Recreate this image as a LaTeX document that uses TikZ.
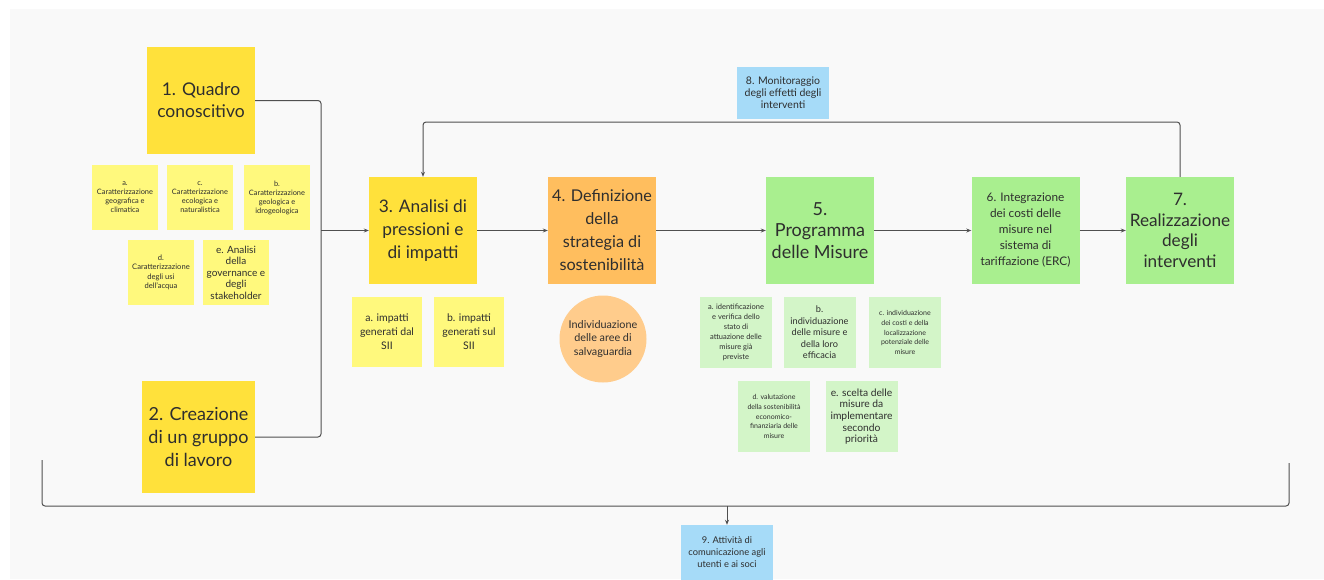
\documentclass[tikz,border=0pt]{standalone}
\usepackage{fontspec}
\setmainfont{Lato}
\usetikzlibrary{arrows.meta}
\definecolor{bgcol}{HTML}{F9F9F9}
\definecolor{txtcol}{HTML}{2E2E2E}
\definecolor{linecol}{HTML}{505050}
\definecolor{stepyel}{HTML}{FFE13B}
\definecolor{steporg}{HTML}{FFBE5E}
\definecolor{stepgrn}{HTML}{A9EF8F}
\definecolor{noteyel}{HTML}{FFF97D}
\definecolor{notegrn}{HTML}{D3F5C8}
\definecolor{noteblu}{HTML}{A6DBF8}
\definecolor{circorg}{HTML}{FFCC8C}
\newcommand{\fs}[2]{\fontsize{#1}{#2}\selectfont}
\begin{document}
\begin{tikzpicture}[x=1pt, y=-1pt,
  every node/.style={align=center, inner sep=0pt, text=txtcol},
  stepbox/.style={minimum width=108pt, minimum height=107pt},
  notesq/.style={fill=noteyel, minimum width=66pt, minimum height=65pt, font=\fs{7.4}{9}},
  notegr/.style={fill=notegrn, minimum width=72pt, minimum height=71pt, font=\fs{7}{9.8}},
  infobox/.style={fill=noteblu, minimum width=92pt, font=\fs{10.5}{12}},
  link/.style={draw=linecol, line width=1pt, rounded corners=3pt},
  flow/.style={link, -{Stealth[length=5pt, width=4pt]}}]
  \useasboundingbox (0,0) rectangle (1324,579);
  \fill[bgcol] (10,9) rectangle (1324,579);

  \node[stepbox, fill=stepyel, font=\fs{17.5}{22}] (q1) at (201,100.5) {1. Quadro\\conoscitivo};
  \node[stepbox, fill=stepyel, font=\fs{18}{23}, minimum width=113pt, minimum height=112pt] (q2) at (198.5,437) {2. Creazione\\di un gruppo\\di lavoro};
  \node[stepbox, fill=stepyel, font=\fs{17.3}{23}] (q3) at (423,230.5) {3. Analisi di\\pressioni e\\di impatti};
  \node[stepbox, fill=steporg, font=\fs{16.2}{23}] (q4) at (602,230.5) {4. Definizione\\della\\strategia di\\sostenibilità};
  \node[stepbox, fill=stepgrn, font=\fs{18}{21.5}] (q5) at (820,230.5) {5.\\Programma\\delle Misure};
  \node[stepbox, fill=stepgrn, font=\fs{11.8}{16}] (q6) at (1025.5,230.5) {6. Integrazione\\dei costi delle\\misure nel\\sistema di\\tariffazione (ERC)};
  \node[stepbox, fill=stepgrn, font=\fs{17.2}{20.5}] (q7) at (1180,230.5) {7.\\Realizzazione\\degli\\interventi};

  \node[notesq] (n1a) at (125,197.5) {a.\\Caratterizzazione\\geografica e\\climatica};
  \node[notesq] (n1c) at (200,197.5) {c.\\Caratterizzazione\\ecologica e\\naturalistica};
  \node[notesq] (n1b) at (277,197.5) {b.\\Caratterizzazione\\geologica e\\idrogeologica};
  \node[notesq, font=\fs{7.6}{9.5}] (n1d) at (161,272.5) {d.\\Caratterizzazione\\degli usi\\dell'acqua};
  \node[notesq, font=\fs{10}{11.5}] (n1e) at (236,272.5) {e. Analisi\\della\\governance e\\degli\\stakeholder};

  \node[notesq, minimum width=70pt, minimum height=70pt, font=\fs{10.5}{14}] (n3a) at (387,332) {a. impatti\\generati dal\\SII};
  \node[notesq, minimum width=70pt, minimum height=70pt, font=\fs{10.5}{14}] (n3b) at (469,332) {b. impatti\\generati sul\\SII};
  \node[circle, fill=circorg, minimum size=87pt, font=\fs{10.8}{13.5}] (c4) at (603,339) {Individuazione\\delle aree di\\salvaguardia};

  \node[notegr, font=\fs{7.5}{10}] (n5a) at (736,332.5) {a. identificazione\\e verifica dello\\stato di\\attuazione delle\\misure già\\previste};
  \node[notegr, font=\fs{9.2}{11.5}] (n5b) at (819.5,332.5) {b.\\individuazione\\delle misure e\\della loro\\efficacia};
  \node[notegr] (n5c) at (905,332.5) {c. individuazione\\dei costi e della\\localizzazione\\potenziale delle\\misure};
  \node[notegr] (n5d) at (774,416.5) {d. valutazione\\della sostenibilità\\economico-\\finanziaria delle\\misure};
  \node[notegr, font=\fs{10.3}{11.7}] (n5e) at (861.5,416.5) {e. scelta delle\\misure da\\implementare\\secondo\\priorità};

  \node[infobox, minimum height=52pt] (m8) at (783,93) {8. Monitoraggio\\degli effetti degli\\interventi};
  \node[infobox, minimum height=55pt, font=\fs{9.3}{12}] (m9) at (727,552.5) {9. Attività di\\comunicazione agli\\utenti e ai soci};

  \coordinate (jl) at (321,230.5);
  \coordinate (lp) at (783,122);
  \coordinate (bl) at (42,460);
  \coordinate (bm) at (727,506);
  \coordinate (br) at (1289,463);

  \draw[link] (q1.east) -| (jl);
  \draw[link] (q2.east) -| (jl);
  \draw[flow] (jl) -- (q3.west);
  \draw[flow] (q3) -- (q4);
  \draw[flow] (q4) -- (q5);
  \draw[flow] (q5) -- (q6);
  \draw[flow] (q6) -- (q7);
  \draw[flow] (q7.north) |- (lp) -| (q3.north);
  \draw[link] (bl) |- (bm) -| (br);
  \draw[flow] (bm) -- (m9.north);
\end{tikzpicture}
\end{document}
